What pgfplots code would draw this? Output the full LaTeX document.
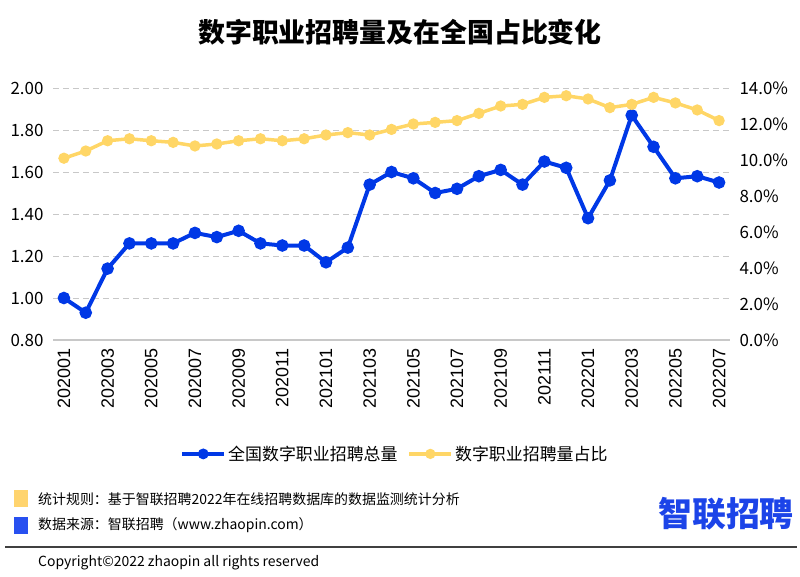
\documentclass[border=0pt]{standalone}
\usepackage{fontspec}
\setmainfont{Noto Sans CJK SC}
\newfontfamily\arialfont{Liberation Sans}
\usepackage{pgfplots}
\usepackage{pgfplotstable}
\pgfplotsset{compat=1.18}
\definecolor{cblue}{RGB}{0,56,230}
\definecolor{cyel}{RGB}{255,214,102}
\definecolor{cgrid}{RGB}{200,200,200}
\definecolor{logoblue}{RGB}{28,68,232}
\definecolor{sqblue}{RGB}{40,80,240}
\definecolor{sqyel}{RGB}{255,212,110}
\pgfplotstableread{
x total share
0 1.00 10.1
1 0.93 10.5
2 1.14 11.07
3 1.26 11.18
4 1.26 11.07
5 1.26 10.98
6 1.31 10.78
7 1.29 10.89
8 1.32 11.07
9 1.26 11.18
10 1.25 11.07
11 1.25 11.18
12 1.17 11.39
13 1.24 11.52
14 1.54 11.39
15 1.60 11.70
16 1.57 12.0
17 1.50 12.09
18 1.52 12.19
19 1.58 12.59
20 1.61 13.0
21 1.54 13.09
22 1.65 13.48
23 1.62 13.57
24 1.38 13.39
25 1.56 12.91
26 1.87 13.09
27 1.72 13.48
28 1.57 13.17
29 1.58 12.78
30 1.55 12.19
}\data
\begin{document}
\begin{tikzpicture}
\path[use as bounding box] (0,0) rectangle (800bp,-577bp);
\pgfplotsset{
  common/.style={
    at={(53bp,-340bp)}, anchor=south west,
    scale only axis, width=677bp, height=252bp,
    xmin=-0.5, xmax=30.5,
    /pgf/number format/assume math mode=true,
    major tick length=0pt,
    tick label style={font=\fontsize{17}{20}\selectfont},
  },
  bluestyle/.style={color=cblue, line width=4bp, mark=*, mark size=4.2bp, mark options={solid}},
  yelstyle/.style={color=cyel, line width=3.5bp, mark=*, mark size=3.8bp, mark options={solid}},
}
\begin{axis}[common,
  axis x line*=bottom, axis y line*=left,
  x axis line style={cgrid, line width=1.6bp},
  y axis line style={draw=none},
  ymin=0.8, ymax=2.0,
  ytick={0.8,1,1.2,1.4,1.6,1.8,2},
  yticklabel style={/pgf/number format/fixed, /pgf/number format/fixed zerofill, /pgf/number format/precision=2, xshift=-6bp},
  ymajorgrids, grid style={cgrid, line width=1bp, dash pattern=on 6bp off 4bp},
  xtick={0,2,...,30},
  xticklabels={202001,202003,202005,202007,202009,202011,202101,202103,202105,202107,202109,202111,202201,202203,202205,202207},
  xticklabel style={rotate=90, anchor=east, font=\arialfont\fontsize{18}{20}\selectfont, xshift=-5bp},
]
\addplot[bluestyle] table[x=x,y=total] {\data};
\end{axis}
\begin{axis}[common,
  axis y line*=right, axis x line=none,
  y axis line style={draw=none},
  ymin=0, ymax=14,
  ytick={0,2,4,6,8,10,12,14},
  yticklabel={\pgfmathprintnumber[fixed,fixed zerofill,precision=1]{\tick}\%},
  yticklabel style={xshift=6bp},
  legend style={at={(0.505,-0.452)}, anchor=center, draw=none, fill=none,
    font=\fontsize{17}{20}\selectfont,
    /tikz/every even column/.append style={column sep=8bp}},
  legend columns=2, legend cell align=left,
  legend image code/.code={\draw[mark repeat=2,mark phase=2,#1,mark size=3.3bp] plot coordinates {(0bp,0bp) (21bp,0bp) (42bp,0bp)};},
]
\addlegendimage{bluestyle}
\addlegendentry{全国数字职业招聘总量}
\addplot[yelstyle] table[x=x,y=share] {\data};
\addlegendentry{数字职业招聘量占比}
\end{axis}
\node[font=\fontsize{27}{30}\selectfont\bfseries] at (400bp,-32bp) {数字职业招聘量及在全国占比变化};
\fill[sqyel] (14bp,-490bp) rectangle (28bp,-507bp);
\fill[sqblue] (14bp,-517bp) rectangle (28bp,-534bp);
\node[anchor=west, font=\fontsize{14}{16}\selectfont, inner sep=0pt] at (38bp,-499bp) {统计规则：基于智联招聘2022年在线招聘数据库的数据监测统计分析};
\node[anchor=west, font=\fontsize{14}{16}\selectfont, inner sep=0pt] at (38bp,-525bp) {数据来源：智联招聘（www.zhaopin.com）};
\node[anchor=east, font=\fontsize{34}{36}\selectfont\bfseries, text=logoblue, inner sep=0pt] at (794bp,-514bp) {智联招聘};
\draw[black!75, line width=1.2bp] (5bp,-547bp) -- (797bp,-547bp);
\node[anchor=west, font=\fontsize{14}{16}\selectfont, inner sep=0pt] at (38bp,-563bp) {Copyright©2022 zhaopin all rights reserved};
\end{tikzpicture}
\end{document}
